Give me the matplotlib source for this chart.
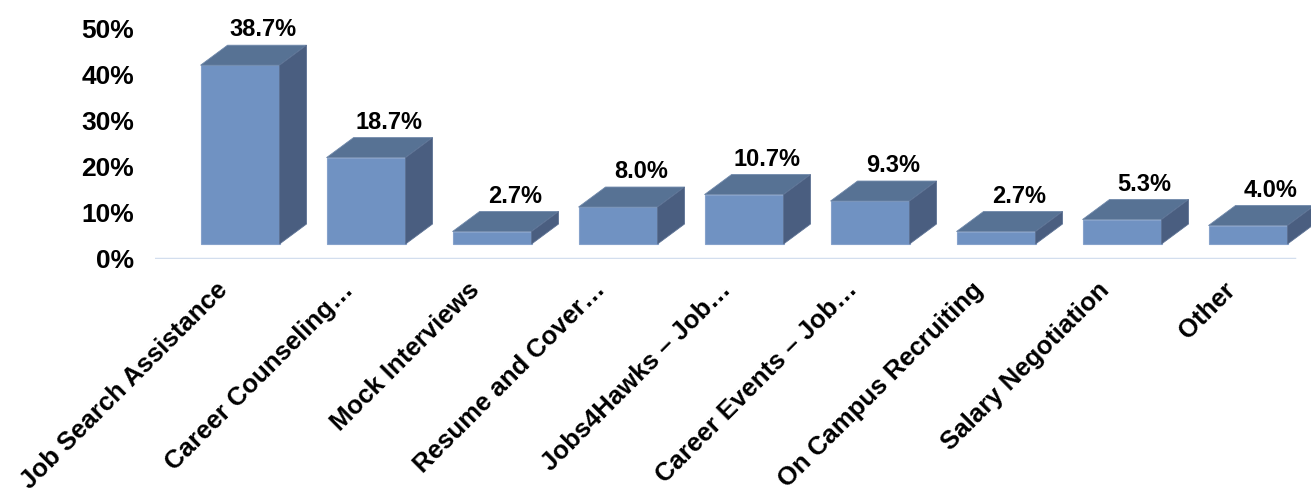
import matplotlib
matplotlib.use("Agg")
import matplotlib.pyplot as plt
from matplotlib.patches import Polygon, Rectangle

categories = [
    "Job Search Assistance",
    "Career Counseling…",
    "Mock Interviews",
    "Resume and Cover…",
    "Jobs4Hawks – Job…",
    "Career Events – Job…",
    "On Campus Recruiting",
    "Salary Negotiation",
    "Other",
]
values = [38.7, 18.7, 2.7, 8.0, 10.7, 9.3, 2.7, 5.3, 4.0]
yticks = [0, 10, 20, 30, 40, 50]

FRONT = "#7092C2"
TOP = "#577294"
SIDE = "#4A5E80"
EDGE = "#86A2CB"
FONT = "Liberation Sans"

W, H = 1311, 496
fig = plt.figure(figsize=(W / 100, H / 100), dpi=100)
# plot area in pixels: x 155..1311, 0% at y=259, 50% at y=28
ax = fig.add_axes([155 / W, (H - 259) / H, (W - 155) / W, (259 - 28) / H])
ax.set_xlim(-0.675, 8.5)
ax.set_ylim(0, 50)

py = (259 - 28) / 50      # pixels per percent
base = 15 / py            # front faces sit a bit above the floor line
dx, dy = 27 / 126, 20 / py
w = 79 / 126

for i, v in enumerate(values):
    x0 = i - w / 2
    top = base + v
    ax.add_patch(Rectangle((x0, base), w, v, facecolor=FRONT, edgecolor=EDGE,
                           linewidth=0.8, clip_on=False, zorder=3))
    ax.add_patch(Polygon([(x0, top), (x0 + w, top), (x0 + w + dx, top + dy), (x0 + dx, top + dy)],
                         closed=True, facecolor=TOP, edgecolor="#6F88AA", linewidth=0.6,
                         clip_on=False, zorder=3))
    ax.add_patch(Polygon([(x0 + w, base), (x0 + w + dx, base + dy), (x0 + w + dx, top + dy), (x0 + w, top)],
                         closed=True, facecolor=SIDE, edgecolor="#5D7294", linewidth=0.6,
                         clip_on=False, zorder=3))
    ax.text(i + 0.18, top + dy + 9 / py, f"{v:.1f}%", ha="center", va="baseline",
            fontsize=17, fontweight="bold", family=FONT, clip_on=False)
    ax.text(i - 0.13, -27 / py, categories[i], rotation=45, rotation_mode="anchor",
            ha="right", va="center", fontsize=18.5, fontweight="bold", family=FONT,
            clip_on=False)

# floor line
ax.axhline(0, xmin=0, xmax=(1294 - 155) / (W - 155), color="#D3DEEE", linewidth=2.5, zorder=1)

for s in ax.spines.values():
    s.set_visible(False)
ax.set_xticks([])
ax.set_yticks(yticks)
ax.set_yticklabels([f"{t}%" for t in yticks], fontsize=19, fontweight="bold", family=FONT)
ax.tick_params(axis="y", length=0, pad=15)
ax.patch.set_alpha(0)

fig.savefig("out.png", dpi=100, facecolor="white")
